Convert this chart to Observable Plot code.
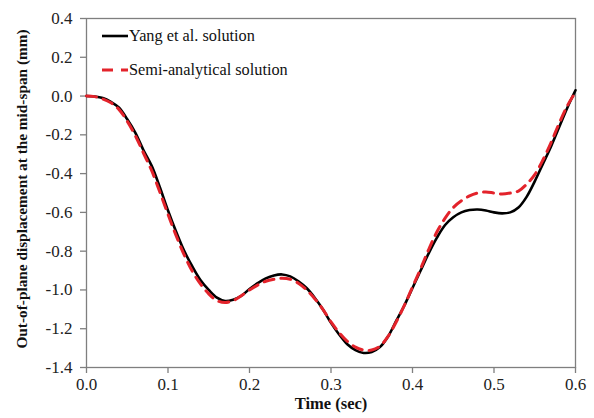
<!DOCTYPE html>
<html>
<head>
<meta charset="utf-8">
<script src="https://cdn.jsdelivr.net/npm/d3@7"></script>
<script src="https://cdn.jsdelivr.net/npm/@observablehq/plot@0.6"></script>
<style>
  html, body { margin: 0; padding: 0; background: #fff; }
  #chart { width: 594px; height: 418px; }
</style>
</head>
<body>
<div id="chart"></div>
<script>
// Time samples (sec)
const time = [0, 0.01, 0.02, 0.03, 0.04, 0.05, 0.06, 0.07, 0.08, 0.09,
  0.10, 0.11, 0.12, 0.13, 0.14, 0.15, 0.16, 0.17, 0.18, 0.19,
  0.20, 0.21, 0.22, 0.23, 0.24, 0.25, 0.26, 0.27, 0.28, 0.29,
  0.30, 0.31, 0.32, 0.33, 0.34, 0.35, 0.36, 0.37, 0.38, 0.39,
  0.40, 0.41, 0.42, 0.43, 0.44, 0.45, 0.46, 0.47, 0.48, 0.49,
  0.50, 0.51, 0.52, 0.53, 0.54, 0.55, 0.56, 0.57, 0.58, 0.59, 0.60];

// Out-of-plane mid-span displacement (mm), Yang et al. solution
const yangSolution = [0.0, -0.002, -0.01, -0.03, -0.06, -0.12, -0.19, -0.28, -0.36, -0.47,
  -0.59, -0.70, -0.80, -0.88, -0.95, -1.00, -1.04, -1.057, -1.05, -1.03,
  -0.995, -0.965, -0.94, -0.925, -0.92, -0.93, -0.955, -0.99, -1.04, -1.10,
  -1.17, -1.23, -1.28, -1.31, -1.325, -1.32, -1.295, -1.24, -1.16, -1.08,
  -0.99, -0.90, -0.81, -0.73, -0.665, -0.625, -0.60, -0.588, -0.585, -0.59,
  -0.60, -0.605, -0.60, -0.575, -0.52, -0.44, -0.35, -0.26, -0.16, -0.06, 0.03];

// Out-of-plane mid-span displacement (mm), semi-analytical solution
const semiAnalytical = [0.0, -0.003, -0.015, -0.035, -0.07, -0.13, -0.205, -0.295, -0.385, -0.495,
  -0.61, -0.72, -0.82, -0.905, -0.97, -1.02, -1.055, -1.065, -1.055, -1.03,
  -1.00, -0.975, -0.955, -0.945, -0.94, -0.945, -0.965, -1.00, -1.045, -1.10,
  -1.165, -1.22, -1.265, -1.295, -1.31, -1.31, -1.29, -1.24, -1.165, -1.08,
  -0.985, -0.89, -0.79, -0.70, -0.63, -0.575, -0.54, -0.515, -0.50, -0.495,
  -0.50, -0.505, -0.50, -0.49, -0.455, -0.405, -0.33, -0.24, -0.14, -0.05, 0.02];

const xTicks = [0, 0.1, 0.2, 0.3, 0.4, 0.5, 0.6];
const yTicks = [0.4, 0.2, 0, -0.2, -0.4, -0.6, -0.8, -1.0, -1.2, -1.4];

const seriesNames = ["Yang et al. solution", "Semi-analytical solution"];
const seriesColors = ["#000000", "#e3232b"];

const rows = (values, name) => time.map((t, i) => ({t, v: values[i], name}));
const yang = rows(yangSolution, seriesNames[0]);
const semi = rows(semiAnalytical, seriesNames[1]);

const serif = "'Liberation Serif', 'Times New Roman', serif";
const axisGray = "#7f7f7f";

const chart = Plot.plot({
  width: 594,
  height: 418,
  marginLeft: 86,
  marginRight: 19,
  marginTop: 18,
  marginBottom: 51,
  style: {fontFamily: serif, fontSize: "17px", color: "#222", background: "#fff"},
  x: {domain: [0, 0.6]},
  y: {domain: [-1.4, 0.4]},
  marks: [
    Plot.frame({stroke: axisGray, strokeWidth: 1.3}),
    Plot.axisX(xTicks, {tickSize: 6, tickPadding: 4, stroke: axisGray, strokeWidth: 1.3,
      tickFormat: d => d.toFixed(1), label: null, fill: "#222", fontSize: 17}),
    Plot.axisY(yTicks, {tickSize: 6, tickPadding: 8, stroke: axisGray, strokeWidth: 1.3,
      tickFormat: d => d.toFixed(1), label: null, fill: "#222", fontSize: 17}),
    Plot.line(yang, {x: "t", y: "v", stroke: seriesColors[0], strokeWidth: 2.6, curve: "catmull-rom"}),
    Plot.line(semi, {x: "t", y: "v", stroke: seriesColors[1], strokeWidth: 3, strokeDasharray: "10,7", curve: "catmull-rom"}),
    Plot.text(["Time (sec)"], {frameAnchor: "bottom", dy: 41, text: d => d, fontWeight: "bold",
      fontSize: 16.5, fontFamily: serif, fill: "#111"}),
    Plot.text(["Out-of-plane displacement at the mid-span (mm)"], {frameAnchor: "left", textAnchor: "middle",
      dx: -64, dy: -4, rotate: -90, text: d => d, fontWeight: "bold", fontSize: 15.3, fontFamily: serif, fill: "#111"})
  ]
});

const svg = d3.select(chart);

// Legend in the upper-left corner of the plot area
const legend = svg.append("g")
  .attr("font-family", serif)
  .attr("font-size", 16.3)
  .attr("text-anchor", "start")
  .attr("fill", "#111");
seriesNames.forEach((name, i) => {
  const y = 36 + i * 34;
  legend.append("line")
    .attr("x1", 102).attr("x2", 128).attr("y1", y).attr("y2", y)
    .attr("stroke", seriesColors[i])
    .attr("stroke-width", i === 0 ? 2.6 : 3)
    .attr("stroke-dasharray", i === 0 ? null : "11,8");
  legend.append("text").attr("x", 129).attr("y", y + 5).text(name);
});

document.getElementById("chart").appendChild(chart);
</script>
</body>
</html>
